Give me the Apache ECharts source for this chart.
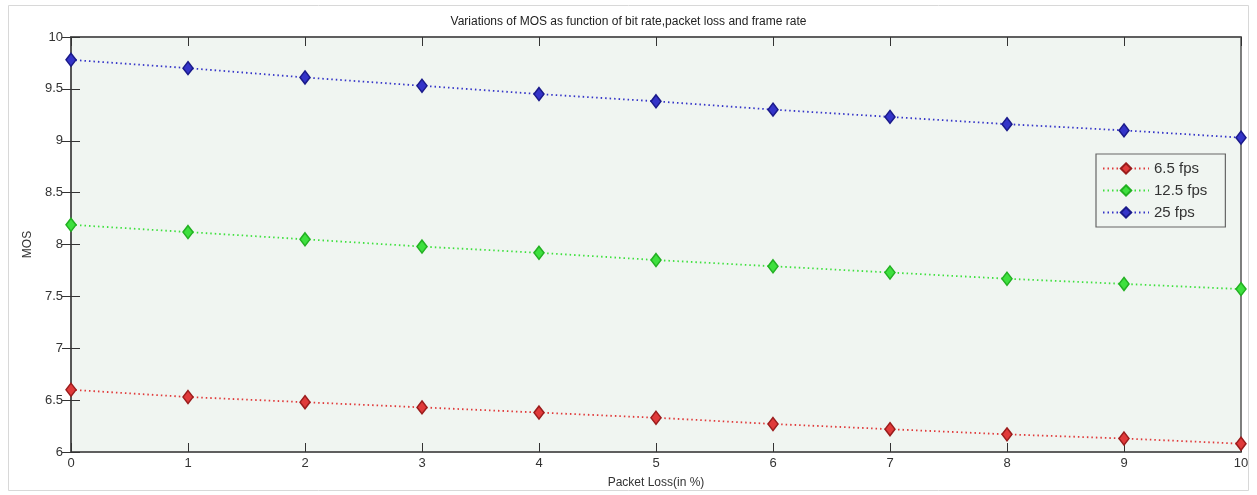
<!DOCTYPE html>
<html><head><meta charset="utf-8">
<script src="https://cdn.jsdelivr.net/npm/echarts@6/dist/echarts.min.js"></script>
<style>html,body{margin:0;padding:0;background:#fff}#c{width:1257px;height:495px}</style>
</head><body><div id="c"></div>
<script>
const packetLoss = [0,1,2,3,4,5,6,7,8,9,10];
const fps65  = [6.60,6.53,6.48,6.43,6.38,6.33,6.27,6.22,6.17,6.13,6.08];
const fps125 = [8.19,8.12,8.05,7.98,7.92,7.85,7.79,7.73,7.67,7.62,7.57];
const fps25  = [9.78,9.70,9.61,9.53,9.45,9.38,9.30,9.23,9.16,9.10,9.03];
const seriesNames = ['6.5 fps','12.5 fps','25 fps'];
const yTicks = [6,6.5,7,7.5,8,8.5,9,9.5,10];

const chart = echarts.init(document.getElementById('c'));
const font = 'Liberation Sans, Arial, sans-serif';
function mk(name, data, col, edge){
  return {
    name, type:'line', data: data.map((v,i)=>[packetLoss[i], v]),
    symbol:'diamond', symbolSize:[10,13],
    itemStyle:{color:col, borderColor:edge, borderWidth:1.5},
    lineStyle:{color:col, width:1.8, type:[1.5,3]},
    xAxisIndex:0, yAxisIndex:0, z:5
  };
}
chart.setOption({
  animation:false,
  backgroundColor:'#ffffff',
  graphic:[{type:'rect', shape:{x:8.5,y:5.5,width:1240,height:485}, style:{fill:'none', stroke:'#d8d8d8', lineWidth:1}, z:-1}],
  title:{text:'Variations of MOS as function of bit rate,packet loss and frame rate', left:'center', top:11,
    textStyle:{fontFamily:font, fontSize:12, fontWeight:'normal', color:'#222'}},
  grid:{left:71, right:16, top:37, bottom:43, show:true, backgroundColor:'#f0f5f1', borderColor:'#555', borderWidth:1.5},
  legend:{
    data:seriesNames, orient:'vertical', left:1096, top:154, itemGap:7, itemWidth:46, itemHeight:13,
    backgroundColor:'#f0f5f1', borderColor:'#666', borderWidth:1.2, padding:[7,18,7,6], borderRadius:0,
    textStyle:{fontFamily:font, fontSize:15, color:'#333'}
  },
  xAxis:[{
    type:'value', min:0, max:10, interval:1,
    name:'Packet Loss(in %)', nameLocation:'middle', nameGap:25,
    nameTextStyle:{fontFamily:font, fontSize:12, color:'#333'},
    axisLine:{show:true, onZero:false, lineStyle:{color:'#555', width:1.5}},
    axisTick:{show:true, inside:true, length:9, lineStyle:{color:'#333'}},
    axisLabel:{fontFamily:font, fontSize:13, color:'#333', margin:5},
    splitLine:{show:false}
  },{
    type:'value', min:0, max:10, interval:1, position:'top',
    axisLine:{show:true, lineStyle:{color:'#555', width:1.5}},
    axisTick:{show:true, inside:true, length:9, lineStyle:{color:'#333'}},
    axisLabel:{show:false}, splitLine:{show:false}
  }],
  yAxis:[{
    type:'value', min:6, max:10, interval:0.5,
    name:'MOS', nameLocation:'middle', nameGap:33, nameRotate:90,
    nameTextStyle:{fontFamily:font, fontSize:12, color:'#333'},
    axisLine:{show:true, lineStyle:{color:'#555', width:1.5}},
    axisTick:{show:true, inside:true, length:9, lineStyle:{color:'#333'}},
    axisLabel:{fontFamily:font, fontSize:13, color:'#333', margin:8, padding:[0,0,4,0],
      formatter:v=> yTicks.indexOf(v)>=0 ? String(v) : ''},
    splitLine:{show:false}
  },{
    type:'value', min:6, max:10, interval:0.5, position:'right',
    axisLine:{show:true, lineStyle:{color:'#555', width:1.5}},
    axisTick:{show:true, inside:true, length:9, lineStyle:{color:'#333'}},
    axisLabel:{show:false}, splitLine:{show:false}
  }],
  series:[
    mk(seriesNames[0], fps65, '#e03a3a', '#9a1c1c'),
    mk(seriesNames[1], fps125, '#3ee03e', '#22b022'),
    mk(seriesNames[2], fps25, '#3434c8', '#1a1a8a')
  ]
});
</script></body></html>
